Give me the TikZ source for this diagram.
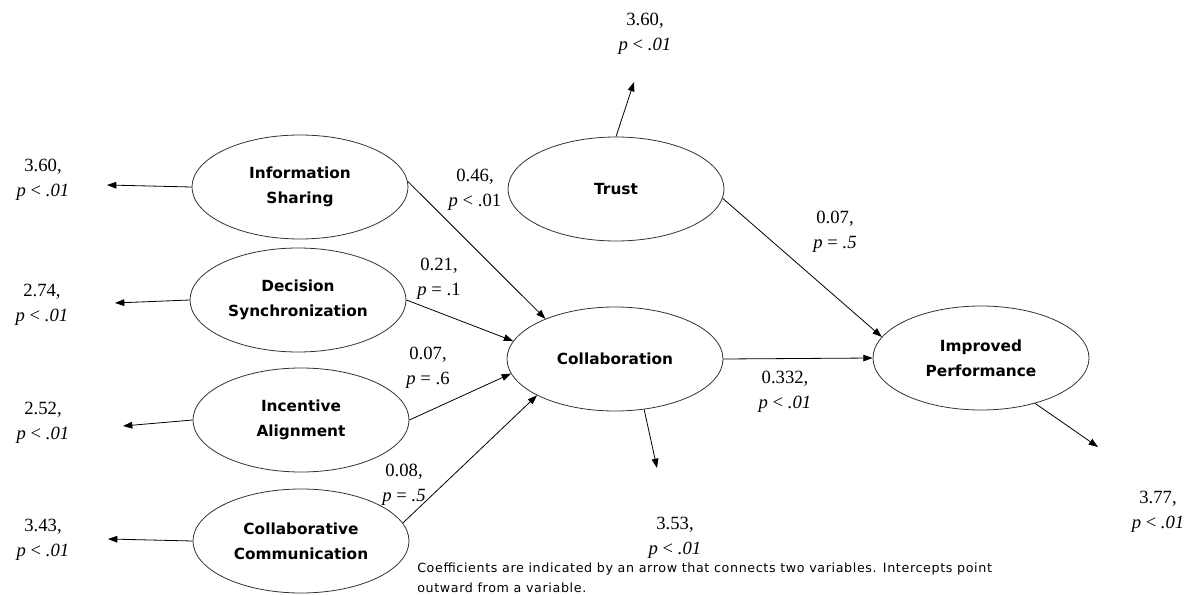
\documentclass[tikz,border=0pt]{standalone}
\usepackage{fontspec}
\setmainfont{Liberation Serif}
\newfontfamily\varfont{DejaVu Sans}
\newfontfamily\notefont[LetterSpace=5]{DejaVu Sans}
\usetikzlibrary{shapes.geometric,arrows.meta}

\newcommand{\pit}[2]{\textit{p} #1 #2}

\begin{document}
\begin{tikzpicture}[x=0.75pt, y=-0.75pt,
    latent/.style={draw=black!80, line width=0.6pt, ellipse, minimum width=162pt, minimum height=78pt,
        inner sep=0pt, align=center, font=\varfont\bfseries\fontsize{11.5}{18.5}\selectfont},
    est/.style={align=center, inner sep=0pt, font=\fontsize{14}{18.5}\selectfont},
    coef/.style={-{Triangle[length=7pt,width=5pt]}, line width=0.6pt},
    icpt/.style={-{Triangle[length=7pt,width=5pt]}, line width=0.6pt},
    note/.style={align=left, inner sep=0pt, font=\notefont\fontsize{9.5}{15}\selectfont}]
        \useasboundingbox (0,0) rectangle (1198,595);

        % variables
        \node[latent] (infoshare) at (300,187) {Information\\Sharing};
        \node[latent] (decision) at (298,300) {Decision\\Synchronization};
        \node[latent] (incentive) at (301,420) {Incentive\\Alignment};
        \node[latent] (collabcomm) at (301,541) {Collaborative\\Communication};
        \node[latent] (trust) at (616,189) {Trust};
        \node[latent] (collab) at (615,359) {Collaboration};
        \node[latent] (improved) at (981,358) {Improved\\Performance};

        % intercept ends
        \coordinate (e-info) at (107,185);
        \coordinate (e-decision) at (115,303);
        \coordinate (e-incentive) at (123,426);
        \coordinate (e-collabcomm) at (108,539);
        \coordinate (e-trust) at (634,82);
        \coordinate (e-collab) at (657,468);
        \coordinate (e-improved) at (1098,447);

        % intercept labels
        \node[est] (l-info) at (43,180) {3.60,\\\pit{<}{\textit{.01}}};
        \node[est] (l-decision) at (42,305) {2.74,\\\pit{<}{\textit{.01}}};
        \node[est] (l-incentive) at (43,423) {2.52,\\\pit{<}{\textit{.01}}};
        \node[est] (l-collabcomm) at (43,540) {3.43,\\\pit{<}{\textit{.01}}};
        \node[est] (l-trust) at (645,34) {3.60,\\\pit{<}{\textit{.01}}};
        \node[est] (l-collab) at (675,538) {3.53,\\\pit{<}{\textit{.01}}};
        \node[est] (l-improved) at (1158,512) {3.77,\\\pit{<}{\textit{.01}}};

        % intercept arrows
        \draw[icpt] (infoshare.west) -- (e-info);
        \draw[icpt] (decision.west) -- (e-decision);
        \draw[icpt] (incentive.west) -- (e-incentive);
        \draw[icpt] (collabcomm.west) -- (e-collabcomm);
        \draw[icpt] (trust.north) -- (e-trust);
        \draw[icpt] (collab.-60) -- (e-collab);
        \draw[icpt] (improved.-40) -- (e-improved);

        % coefficient arrows
        \draw[coef] (infoshare.3) -- (collab.150);
        \draw[coef] (decision.east) -- (collab.170);
        \draw[coef] (incentive.east) -- (collab.188);
        \draw[coef] (collabcomm.10) -- (collab.205);
        \draw[coef] (trust.-5) -- (improved.168);
        \draw[coef] (collab.east) -- (improved.west);

        % coefficient labels
        \node[est] (c-info) at (475,190) {0.46,\\\pit{<}{.01}};
        \node[est] (c-decision) at (439,279) {0.21,\\\pit{=}{.1}};
        \node[est] (c-incentive) at (428,368) {0.07,\\\pit{=}{.6}};
        \node[est] (c-collabcomm) at (404,485) {0.08,\\\pit{=}{\textit{.5}}};
        \node[est] (c-trust) at (835,232) {0.07,\\\pit{=}{\textit{.5}}};
        \node[est] (c-collab) at (785,392) {0.332,\\\pit{<}{\textit{.01}}};

        % note
        \node[note, anchor=base west] (note) at (417,592) {Coefficients are indicated by an arrow that connects two variables. Intercepts point\\outward from a variable.};
\end{tikzpicture}
\end{document}
